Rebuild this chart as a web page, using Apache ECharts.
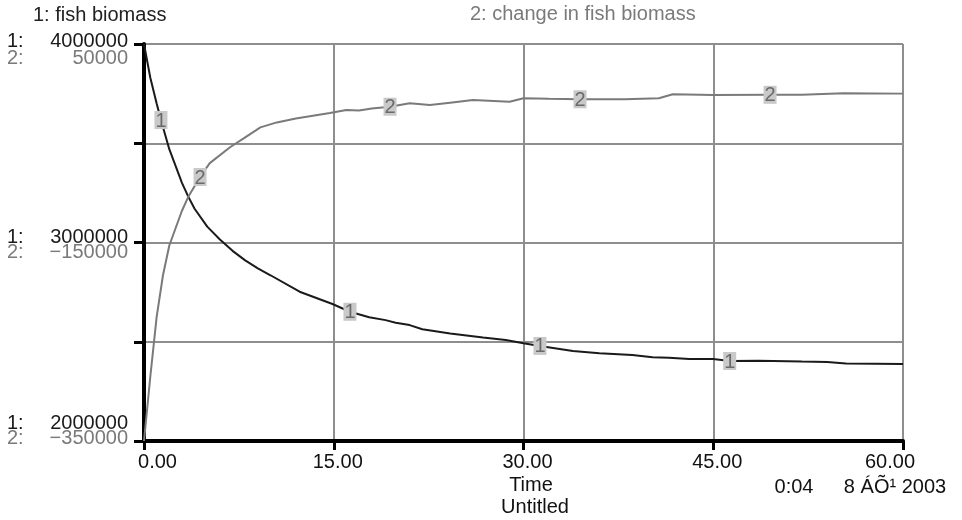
<!DOCTYPE html>
<html>
<head>
<meta charset="utf-8">
<script src="https://cdn.jsdelivr.net/npm/echarts@6/dist/echarts.min.js"></script>
<style>
  html, body { margin: 0; padding: 0; background: #fff; }
  #chart { width: 962px; height: 520px; }
</style>
</head>
<body>
<div id="chart"></div>
<script>
// ---- data ----
const time1 = [0, 0.5, 1, 1.34, 2, 3, 3.5, 4, 5, 6, 7, 8, 9, 10, 12.3, 14.9, 16.28, 17.8, 19.1, 19.9, 21, 22, 24.2, 26.8, 28.6, 30, 31.3, 33.9, 36, 38.6, 40.2, 41.5, 43.1, 45, 46.3, 48.6, 52, 54, 55.5, 60];
const fishBiomass = [4000000, 3830000, 3700000, 3617000, 3470000, 3300000, 3231000, 3170000, 3080000, 3015000, 2958000, 2910000, 2870000, 2835000, 2752000, 2690000, 2651000, 2623000, 2609000, 2596000, 2584000, 2563000, 2542000, 2522000, 2509000, 2492000, 2479000, 2453000, 2442000, 2433000, 2422000, 2420000, 2413000, 2413000, 2403000, 2404000, 2400000, 2398000, 2390000, 2388000];

const time2 = [0, 0.5, 1, 1.5, 2, 3, 3.5, 4.43, 5.2, 6.8, 8, 9.2, 10.5, 12, 14.7, 16, 17, 18, 19.45, 21, 22.6, 24.2, 26, 28.9, 30, 32, 34.47, 38, 40.7, 41.8, 45, 49.49, 52, 55.3, 60];
const changeBiomass = [-350000, -285000, -225000, -183000, -153000, -118000, -104000, -84000, -70000, -54000, -44000, -34000, -29000, -25000, -19500, -16500, -17000, -15000, -13200, -9800, -11500, -9100, -6400, -8100, -4700, -5200, -5700, -5700, -4700, -700, -1400, -1200, -1200, 300, 0];

const markerTimes1 = [1.34, 16.28, 31.3, 46.3];
const markerTimes2 = [4.43, 19.45, 34.47, 49.49];

const xTicks = [0, 15, 30, 45, 60];
const xTickLabels = ['0.00', '15.00', '30.00', '45.00', '60.00'];
const yTicks1 = [2000000, 3000000, 4000000];
const yTickLabels1 = ['2000000', '3000000', '4000000'];
const yTicks2 = [-350000, -150000, 50000];
const yTickLabels2 = ['\u2212350000', '\u2212150000', '50000'];

// ---- build ----
const FONT = '"Liberation Sans", Arial, sans-serif';
const C1 = '#1a1a1a';
const C2 = '#7a7a7a';
const GRID = '#8e8e8e';

const s1 = time1.map((t, i) => [t, fishBiomass[i]]);
const s2 = time2.map((t, i) => [t, changeBiomass[i]]);
const mp1 = markerTimes1.map(t => ({ coord: [t, fishBiomass[time1.indexOf(t)]], value: '1' }));
const mp2 = markerTimes2.map(t => ({ coord: [t, changeBiomass[time2.indexOf(t)]], value: '2' }));

function yRich(color, pads) {
  const r = {};
  pads.forEach((p, i) => {
    r['p' + i] = { width: 25, align: 'left', color: color, fontSize: 20, fontFamily: FONT, padding: p, lineHeight: 20 };
    r['n' + i] = { width: 96, align: 'right', color: color, fontSize: 20, fontFamily: FONT, padding: p, lineHeight: 20 };
  });
  return r;
}

const markStyle = (txt) => ({
  symbol: 'rect',
  symbolSize: [13, 18],
  itemStyle: { color: '#c9c9c9' },
  label: { show: true, position: 'inside', formatter: txt, color: '#6a6a6a', fontSize: 20, fontFamily: FONT, offset: [0, 1] }
});

const chart = echarts.init(document.getElementById('chart'));
chart.setOption({
  animation: false,
  backgroundColor: '#fff',
  grid: { left: 144, right: 59, top: 44, bottom: 79, containLabel: false },
  xAxis: {
    type: 'value', min: 0, max: 60, interval: 15,
    axisLine: { show: true, onZero: false, lineStyle: { color: '#000', width: 4 } },
    axisTick: { show: true, length: 9, lineStyle: { color: '#000', width: 3 } },
    splitLine: { show: true, lineStyle: { color: GRID, width: 2 } },
    axisLabel: {
      margin: 11, color: '#111', fontSize: 20, fontFamily: FONT,
      formatter: v => {
        const i = xTicks.indexOf(v);
        if (i < 0) return '';
        const st = i === 0 ? 'f' : (i === xTicks.length - 1 ? 'l' : 'm');
        return '{' + st + '|' + xTickLabels[i] + '}';
      },
      rich: {
        f: { fontSize: 20, fontFamily: FONT, color: '#111', padding: [0, 0, 0, 27] },
        m: { fontSize: 20, fontFamily: FONT, color: '#111', padding: [0, 0, 0, 8] },
        l: { fontSize: 20, fontFamily: FONT, color: '#111', padding: [0, 26, 0, 0] }
      }
    }
  },
  yAxis: [
    {
      type: 'value', min: 2000000, max: 4000000, interval: 500000, position: 'left',
      axisLine: { show: true, onZero: false, lineStyle: { color: '#000', width: 4 } },
      axisTick: { show: true, length: 10, lineStyle: { color: '#000', width: 3 } },
      splitLine: { show: true, lineStyle: { color: GRID, width: 2 } },
      axisLabel: {
        margin: 16, align: 'right',
        formatter: v => {
          const i = yTicks1.indexOf(v);
          if (i < 0) return '';
          return '{p' + i + '|1:}{n' + i + '|' + yTickLabels1[i] + '}';
        },
        rich: yRich(C1, [[0, 0, 36, 0], [0, 0, 10, 0], [0, 0, 6, 0]])
      }
    },
    {
      type: 'value', min: -350000, max: 50000, interval: 100000, position: 'left',
      axisLine: { show: false, onZero: false }, axisTick: { show: false }, splitLine: { show: false },
      axisLabel: {
        margin: 16, align: 'right',
        formatter: v => {
          const i = yTicks2.indexOf(v);
          if (i < 0) return '';
          return '{p' + i + '|2:}{n' + i + '|' + yTickLabels2[i] + '}';
        },
        rich: yRich(C2, [[0, 0, 6, 0], [20, 0, 0, 0], [28, 0, 0, 0]])
      }
    }
  ],
  series: [
    {
      name: 'fish biomass', type: 'line', yAxisIndex: 0, data: s1,
      showSymbol: false, symbol: 'none',
      lineStyle: { color: C1, width: 2 }, z: 3,
      markPoint: Object.assign(markStyle('1'), { data: mp1 })
    },
    {
      name: 'change in fish biomass', type: 'line', yAxisIndex: 1, data: s2,
      showSymbol: false, symbol: 'none',
      lineStyle: { color: C2, width: 2 }, z: 3,
      markPoint: Object.assign(markStyle('2'), { data: mp2 })
    }
  ],
  graphic: [
    { type: 'text', left: 33, top: 5, style: { text: '1: fish biomass', fill: '#222', font: '20px ' + FONT } },
    { type: 'text', left: 470, top: 4, style: { text: '2: change in fish biomass', fill: C2, font: '20px ' + FONT } },
    { type: 'text', x: 531, y: 485, style: { text: 'Time', fill: '#111', font: '20px ' + FONT, align: 'center', verticalAlign: 'middle' } },
    { type: 'text', x: 535, y: 507, style: { text: 'Untitled', fill: '#111', font: '20px ' + FONT, align: 'center', verticalAlign: 'middle' } },
    { type: 'text', x: 794, y: 487, style: { text: '0:04', fill: '#111', font: '20px ' + FONT, align: 'center', verticalAlign: 'middle' } },
    { type: 'text', x: 895, y: 487, style: { text: '8 \u00C1\u00D5\u00B9 2003', fill: '#111', font: '20px ' + FONT, align: 'center', verticalAlign: 'middle' } }
  ]
});
</script>
</body>
</html>
